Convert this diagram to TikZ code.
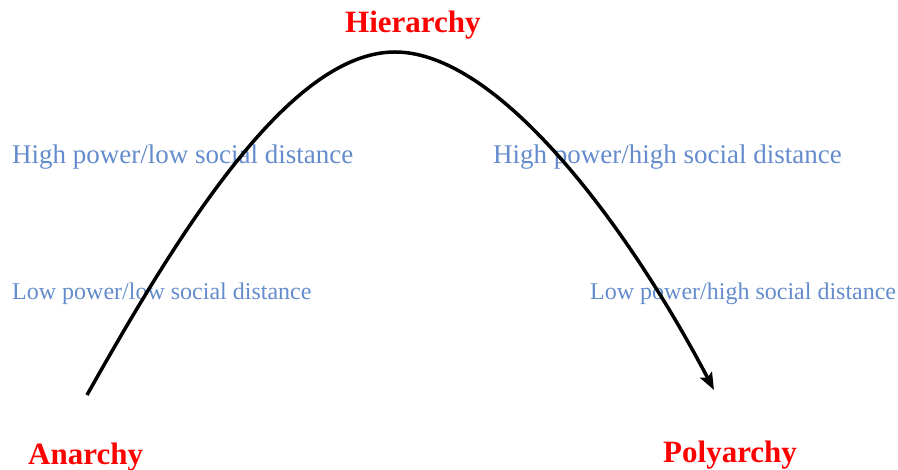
\documentclass[tikz,border=0pt]{standalone}
\usepackage{fontspec}
\setmainfont{Liberation Serif}
\usetikzlibrary{arrows.meta}
\definecolor{lblblue}{RGB}{100,140,205}
\definecolor{lblred}{RGB}{255,0,0}
\tikzset{
  bluelbl/.style={anchor=base west, inner sep=0pt, text=lblblue, font=\fontsize{27}{30}\selectfont},
  bluelblsm/.style={anchor=base west, inner sep=0pt, text=lblblue, font=\fontsize{24}{28}\selectfont},
  redlbl/.style={anchor=base west, inner sep=0pt, text=lblred, font=\fontsize{31}{34}\selectfont\bfseries},
  curve/.style={line width=3.5pt, -{Stealth[length=17pt,width=13pt,inset=3pt]}}
}
\begin{document}
\begin{tikzpicture}[x=1pt,y=1pt]
\useasboundingbox (0,0) rectangle (898,470);
\node[redlbl] (hier) at (345,437) {Hierarchy};
\node[redlbl] (anar) at (28,5) {Anarchy};
\node[redlbl] (poly) at (663,7) {Polyarchy};
\node[bluelbl] (hl) at (12,306) {High power/low social distance};
\node[bluelbl] (hh) at (493,306) {High power/high social distance};
\node[bluelblsm] (ll) at (12,170) {Low power/low social distance};
\node[bluelblsm] (lh) at (590,170) {Low power/high social distance};
\coordinate (start) at (87,75);
\coordinate (peak) at (395,418);
\coordinate (stop) at (714,80);
\draw[curve] (start) .. controls (180,240) and (290,418) .. (peak)
  .. controls (500,418) and (630,240) .. (stop);
\end{tikzpicture}
\end{document}
